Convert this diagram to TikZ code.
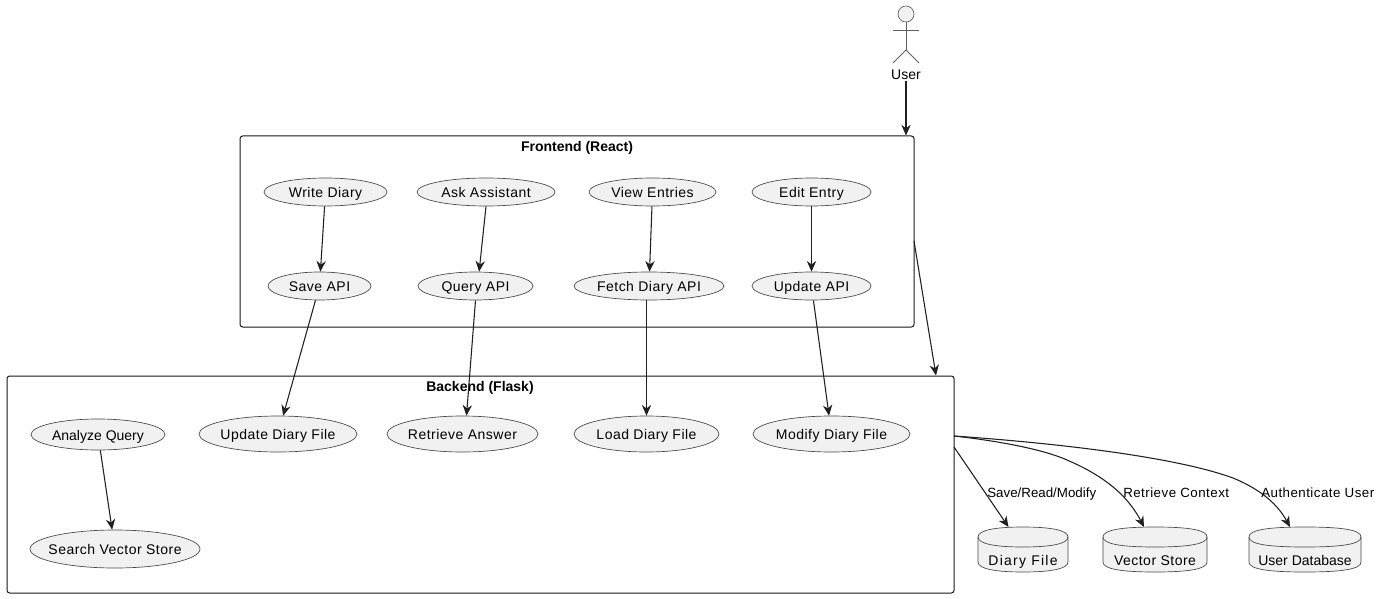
\documentclass[tikz,border=0pt]{standalone}
\usepackage{fontspec}
\setmainfont{Liberation Sans}[LetterSpace=3.5]
\newfontfamily\tightfont{Liberation Sans}
\newfontfamily\widefont{Liberation Sans}[LetterSpace=9]
\usetikzlibrary{arrows.meta,shapes.geometric}
\tikzset{
  fixedline/.style={text height=9.3pt,text depth=0.7pt},
  ell/.style 2 args={ellipse,draw=ellline,fill=ellfill,line width=0.5pt,inner sep=0pt,fixedline,
    minimum width=#1*0.75pt,minimum height=#2*0.75pt,text=black,font=\fontsize{10.5}{12}\selectfont},
  box/.style 2 args={rectangle,draw=boxline,line width=0.75pt,rounded corners=2pt,inner sep=0pt,
    minimum width=#1*0.75pt,minimum height=#2*0.75pt},
  boxtitle/.style={font=\fontsize{10.5}{12}\selectfont\bfseries\tightfont,inner sep=0pt,fixedline},
  conn/.style={draw=connline,line width=0.8pt,-{Stealth[length=8pt,width=7pt,inset=2.6pt]}},
  edgelabel/.style={font=\fontsize{10}{12}\selectfont,inner sep=0pt,fixedline},
  dbshape/.style={draw=ellline,fill=ellfill,line width=0.5pt},
  dbtext/.style={font=\fontsize{10.5}{12}\selectfont,inner sep=0pt,fixedline},
  actorline/.style={draw=actorgray,line width=0.6pt}
}
\definecolor{ellfill}{HTML}{F1F1F1}
\definecolor{ellline}{HTML}{484848}
\definecolor{actorgray}{HTML}{606060}
\definecolor{boxline}{HTML}{181818}
\definecolor{connline}{HTML}{202020}
\newcommand{\nw}[1]{\makebox[0pt]{#1}}
\newcommand{\dbdraw}[2]{%
  \path[dbshape] (#1,537) .. controls (#1,530) and (#1+18,527) .. ({(#1+#2)/2},527)
    .. controls (#2-18,527) and (#2,530) .. (#2,537) -- (#2,562)
    .. controls (#2,569) and (#2-18,572) .. ({(#1+#2)/2},572)
    .. controls (#1+18,572) and (#1,569) .. (#1,562) -- cycle;
  \path[dbshape,fill=none] (#1,537) .. controls (#1,544) and (#1+18,547) .. ({(#1+#2)/2},547)
    .. controls (#2-18,547) and (#2,544) .. (#2,537);
}
\begin{document}
\begin{tikzpicture}[x=0.75pt,y=-0.75pt]
\useasboundingbox (0,0) rectangle (1384,599);
\fill[white] (0,0) rectangle (1384,599);

% containers
\node[box={674}{191}] (frontend) at (577,231.5) {};
\node[box={947}{217}] (backend) at (480.5,484.5) {};
\node[boxtitle] (fetitle) at (577,146) {Frontend (React)};
\node[boxtitle] (betitle) at (480,386) {Backend (Flask)};

% actor
\node[circle,draw=actorgray,fill=ellfill,line width=0.5pt,minimum size=12pt,inner sep=0pt] (head) at (906,14) {};
\coordinate (hip) at (906,50);
\coordinate (armL) at (893,30);
\coordinate (armR) at (919,30);
\coordinate (legL) at (893,63);
\coordinate (legR) at (919,63);
\draw[actorline] (head) -- (hip);
\draw[actorline] (armL) -- (armR);
\draw[actorline] (legL) -- (hip) -- (legR);
\node[inner sep=0pt,fixedline,font=\fontsize{10.5}{12}\selectfont\tightfont] (user) at (906,74) {User};

% frontend use cases
\node[ell={123}{28}] (write) at (325.5,192) {\nw{Write Diary}};
\node[ell={138}{28}] (ask) at (486,192) {\nw{Ask Assistant}};
\node[ell={127}{28}] (view) at (652.5,192) {\nw{View Entries}};
\node[ell={119}{28}] (edit) at (811.5,192) {\nw{Edit Entry}};
\node[ell={103}{28}] (saveapi) at (319.5,286) {\nw{Save API}};
\node[ell={115}{28}] (queryapi) at (475.5,286) {\nw{Query API}};
\node[ell={150}{28}] (fetchapi) at (649,286) {\nw{Fetch Diary API}};
\node[ell={119}{28}] (updateapi) at (811.5,286) {\nw{Update API}};

% backend use cases
\node[ell={134}{31}] (analyze) at (98,434.5) {\nw{\tightfont Analyze Query}};
\node[ell={158}{36}] (updatefile) at (278,434) {\nw{Update Diary File}};
\node[ell={151}{36}] (retrieve) at (462.5,434) {\nw{Retrieve Answer}};
\node[ell={145}{36}] (loadfile) at (646.5,434) {\nw{Load Diary File}};
\node[ell={157}{36}] (modify) at (831.5,434) {\nw{Modify Diary File}};
\node[ell={170}{38}] (search) at (115,549) {\nw{Search Vector Store}};

% databases
\dbdraw{978}{1068}
\dbdraw{1103}{1207}
\dbdraw{1249}{1361}
\node[dbtext,font=\fontsize{10.5}{12}\selectfont\widefont] (diary) at (1023,560) {Diary File};
\node[dbtext] (vector) at (1155,560) {Vector Store};
\node[dbtext,font=\fontsize{10.5}{12}\selectfont\tightfont] (userdb) at (1305,560) {User Database};

% named connector ends
\coordinate (feIn) at (906,135.5);
\coordinate (feOut) at (914,241);
\coordinate (beIn) at (936,375.5);
\coordinate (beOutA) at (954,447);
\coordinate (beOutB) at (954,436);
\coordinate (tipA) at (1008.5,527);
\coordinate (tipB) at (1144,527);
\coordinate (tipC) at (1290,527);
\coordinate (midB) at (1067,460);
\coordinate (midC) at (1233,478);

% connectors
\draw[conn] (user.south) -- (feIn);
\draw[conn] (feOut) -- (beIn);
\draw[conn] (write) -- (saveapi);
\draw[conn] (ask.south) -- ([xshift=2.7pt]queryapi.north);
\draw[conn] (view) -- (fetchapi);
\draw[conn] (edit) -- (updateapi);
\draw[conn] (saveapi) -- (updatefile);
\draw[conn] (queryapi.south) -- ([xshift=3pt]retrieve.north);
\draw[conn] (loadfile |- fetchapi.south) -- (loadfile);
\draw[conn] (updateapi) -- (modify);
\draw[conn] (analyze) -- (search);
\draw[conn] (beOutA) -- (tipA);
\draw[conn] (beOutB) .. controls (990,440) and (1040,448) .. (midB) .. controls (1095,472) and (1125,490) .. (tipB);
\draw[conn] (beOutB) .. controls (1040,442) and (1170,455) .. (midC) .. controls (1262,490) and (1278,505) .. (tipC);

% labels
\node[edgelabel,anchor=west,font=\fontsize{10}{12}\selectfont\tightfont] (lblA) at (987,492) {Save/Read/Modify};
\node[edgelabel,anchor=west] (lblB) at (1123,492) {Retrieve Context};
\node[edgelabel,anchor=west] (lblC) at (1261,492) {Authenticate User};
\end{tikzpicture}
\end{document}
